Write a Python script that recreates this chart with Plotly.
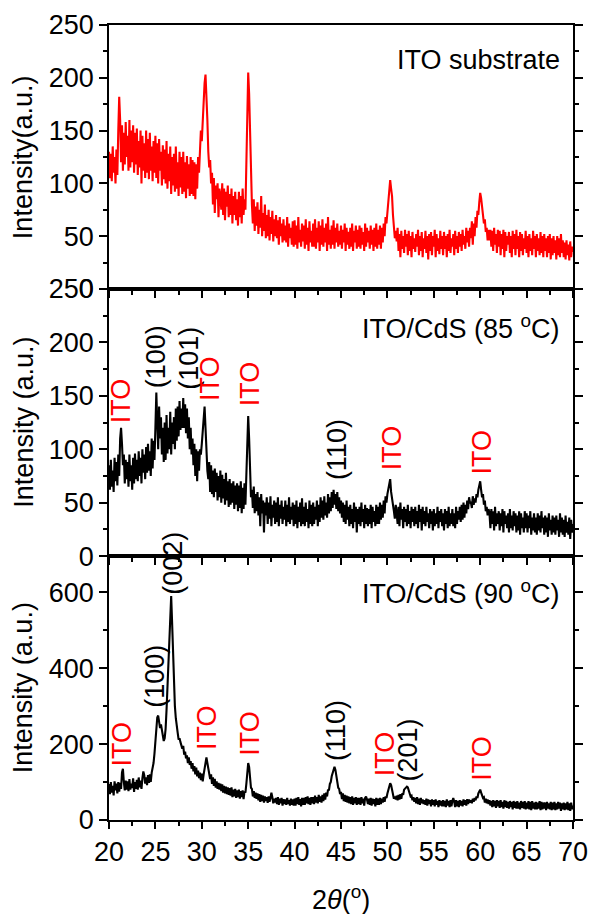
import numpy as np
import plotly.graph_objects as go
from plotly.subplots import make_subplots

# 2-theta grid: 20.0 .. 70.0 step 0.1
two_theta = np.round(20 + 0.1 * np.arange(501), 1)

ito_rows = [
    [130,105,128,102,135,110,125,100,132,108],
    [150,182,160,120,155,112,148,118,158,125],
    [145,112,160,115,150,120,155,110,148,118],
    [152,108,140,115,150,100,145,112,138,105],
    [150,110,142,104,148,112,135,102,140,110],
    [145,105,138,100,142,112,130,98,136,104],
    [132,100,140,95,128,102,135,90,125,98],
    [128,92,135,95,120,88,130,96,125,90],
    [130,92,120,86,126,95,118,88,125,90],
    [122,88,120,85,118,95,125,110,130,150],
    [140,165,175,195,203,185,160,130,115,122],
    [100,110,80,105,72,98,85,100,68,95],
    [88,75,100,70,95,65,92,78,98,68],
    [90,70,95,62,88,70,92,65,85,60],
    [92,68,88,62,95,70,85,75,110,150],
    [205,185,150,100,80,62,85,55,78,60],
    [82,52,75,58,88,50,72,55,80,48],
    [70,50,75,46,68,52,74,45,66,50],
    [70,48,65,42,68,50,62,44,66,46],
    [60,44,68,40,62,48,58,42,64,40],
    [65,42,60,38,68,44,56,40,62,45],
    [60,38,66,42,58,36,64,44,55,40],
    [62,40,66,38,58,44,64,36,60,42],
    [66,40,58,44,62,36,68,42,56,38],
    [60,42,65,38,58,44,62,40,55,42],
    [60,38,56,44,62,36,58,42,54,38],
    [58,40,62,36,55,44,60,38,56,40],
    [60,38,58,42,54,36,62,40,58,44],
    [55,38,60,42,56,36,58,40,62,38],
    [56,42,60,38,58,44,62,50,68,62],
    [72,80,92,103,95,88,70,60,48,55],
    [45,58,36,52,30,55,38,50,34,56],
    [40,52,32,55,36,50,30,54,38,48],
    [35,52,40,56,32,50,36,54,30,48],
    [38,55,34,50,28,52,36,54,32,50],
    [40,56,30,52,36,48,33,55,38,50],
    [32,54,38,50,30,52,36,56,34,48],
    [40,52,32,55,38,50,34,54,40,52],
    [36,56,42,50,38,58,44,55,40,58],
    [48,64,42,62,50,68,58,74,70,82],
    [91,86,78,72,62,66,54,58,46,56],
    [46,56,40,55,36,58,42,52,34,56],
    [40,55,32,52,38,56,30,54,36,50],
    [42,54,34,50,30,55,38,52,32,56],
    [38,50,30,54,36,52,32,48,38,55],
    [34,50,30,52,36,48,32,55,38,50],
    [30,52,36,48,32,54,34,50,30,52],
    [36,48,30,50,34,52,28,48,32,50],
    [34,46,28,50,32,48,30,52,34,46],
    [30,44,28,46,32,42,27,45,30,40],
    [35],
]

cds85_rows = [
    [85,62,90,65,80,60,92,70,88,66],
    [95,75,110,120,105,85,95,68,90,72],
    [88,65,95,70,85,62,92,68,96,72],
    [90,70,98,75,92,68,100,78,95,72],
    [102,78,105,80,98,75,110,82,108,90],
    [120,153,125,100,140,110,130,95,120,88],
    [125,90,132,96,120,100,135,95,125,105],
    [130,100,138,108,140,112,145,118,138,120],
    [148,120,142,115,138,110,130,100,120,95],
    [110,85,105,75,100,70,98,80,100,95],
    [105,118,130,140,120,95,80,72,88,60],
    [85,58,80,55,82,60,78,52,75,55],
    [80,50,76,54,72,48,78,52,70,46],
    [72,48,68,50,70,44,66,48,68,42],
    [66,45,70,40,64,44,68,48,80,110],
    [131,110,80,55,62,45,65,40,58,42],
    [60,38,55,28,58,40,52,22,50,38],
    [55,30,50,35,56,28,48,36,52,30],
    [50,32,55,28,48,35,52,30,46,34],
    [52,28,48,32,55,30,46,34,50,28],
    [48,30,52,26,46,32,50,28,54,30],
    [46,28,50,32,44,26,52,30,48,28],
    [50,30,46,34,52,28,48,32,55,36],
    [52,34,56,38,50,36,58,40,55,42],
    [60,45,62,48,58,44,60,42,55,40],
    [52,36,50,32,48,30,52,34,46,28],
    [48,30,44,26,50,32,46,22,44,30],
    [46,28,50,32,44,26,48,30,45,28],
    [44,30,48,26,46,32,42,28,48,30],
    [46,30,50,34,48,36,52,40,56,50],
    [58,62,68,72,60,55,48,42,35,48],
    [40,30,46,28,50,34,44,26,46,32],
    [44,28,48,30,42,26,46,32,44,28],
    [46,30,42,26,48,32,44,24,46,30],
    [42,28,46,32,40,26,44,30,42,24],
    [44,28,40,30,46,26,42,32,44,28],
    [40,24,44,30,42,26,46,28,40,30],
    [44,28,40,26,46,30,42,34,46,32],
    [48,34,50,36,48,40,52,44,55,50],
    [50,45,56,48,54,50,58,55,62,66],
    [70,62,55,58,48,52,42,46,38,44],
    [40,26,44,30,42,24,46,28,40,30],
    [42,24,40,28,44,22,42,30,38,26],
    [40,22,44,26,38,24,42,28,40,22],
    [38,24,42,20,40,26,36,22,42,26],
    [40,22,38,26,42,20,36,24,40,22],
    [36,20,40,24,38,22,42,26,36,20],
    [38,22,36,18,40,24,34,20,38,22],
    [36,20,38,24,34,18,40,22,36,20],
    [34,18,38,22,32,20,36,16,34,22],
    [30],
]

cds90_rows = [
    [95,68,100,72,90,65,102,78,96,70],
    [100,75,98,82,125,135,100,78,104,80],
    [102,76,108,80,96,84,110,74,100,82],
    [106,80,112,86,104,82,110,128,118,96],
    [112,92,118,98,120,100,125,135,150,175],
    [215,255,270,275,258,242,252,232,218,208],
    [215,240,290,350,430,510,570,590,520,430],
    [350,300,268,242,230,212,215,205,195,188],
    [195,172,180,162,170,150,165,145,155,135],
    [150,128,142,120,138,115,130,110,125,105],
    [122,102,120,135,152,165,150,138,120,108],
    [120,95,112,90,108,85,102,82,98,80],
    [96,76,94,72,90,70,88,68,86,66],
    [84,64,86,60,80,62,82,58,78,60],
    [80,56,76,60,78,55,75,72,95,125],
    [150,140,108,85,82,62,76,58,72,56],
    [70,52,68,48,66,50,64,46,62,50],
    [60,45,62,48,58,72,60,44,56,46],
    [58,42,60,40,56,44,58,38,55,42],
    [54,40,58,42,52,38,56,40,54,38],
    [56,38,58,42,60,40,55,36,58,40],
    [58,40,60,44,62,42,58,40,60,44],
    [60,42,64,46,60,44,66,48,62,46],
    [66,50,70,54,72,62,80,78,95,100],
    [115,125,138,140,132,112,105,85,82,68],
    [74,55,70,50,66,48,64,46,62,44],
    [60,42,62,40,58,44,60,40,58,42],
    [58,40,60,44,56,38,58,62,54,42],
    [56,40,58,38,56,42,55,36,58,40],
    [56,40,58,42,56,46,60,48,62,58],
    [70,78,90,97,92,76,68,56,62,54],
    [64,52,66,54,68,56,70,66,80,82],
    [85,88,86,78,76,62,64,52,60,48],
    [58,44,60,42,56,40,58,44,54,42],
    [52,40,56,38,54,42,52,36,54,40],
    [52,36,54,40,50,34,52,38,50,36],
    [52,36,50,34,54,38,50,34,52,36],
    [50,58,48,34,52,36,50,34,52,38],
    [50,36,54,40,52,38,55,42,54,46],
    [52,44,56,48,58,52,62,58,70,74],
    [80,72,66,58,60,46,56,44,54,42],
    [52,38,50,34,52,36,50,32,52,36],
    [50,32,52,34,48,30,52,34,50,32],
    [48,30,50,34,48,28,50,32,48,30],
    [50,30,46,28,50,32,48,30,50,28],
    [46,30,50,28,48,26,50,30,46,28],
    [48,28,46,30,50,26,48,28,46,30],
    [46,26,48,30,44,28,48,26,46,28],
    [48,26,44,28,48,30,46,24,44,28],
    [46,26,44,28,48,26,44,24,46,28],
    [38],
]

ito_substrate = [v for r in ito_rows for v in r]
cds_85 = [v for r in cds85_rows for v in r]
cds_90 = [v for r in cds90_rows for v in r]

# peak labels: (text, 2theta, intensity at label bottom, colour)
labels_85 = [
    ("ITO", 21.3, 122, "red"), ("(100)", 25.1, 155, "black"),
    ("(101)", 28.6, 154, "black"), ("ITO", 30.9, 143, "red"),
    ("ITO", 35.2, 138, "red"), ("(110)", 44.6, 69, "black"),
    ("ITO", 50.5, 78, "red"), ("ITO", 60.2, 74, "red"),
]
labels_90 = [
    ("ITO", 21.4, 137, "red"), ("(100)", 25.0, 290, "black"),
    ("(002)", 26.8, 587, "black"), ("ITO", 30.5, 179, "red"),
    ("ITO", 35.2, 163, "red"), ("(110)", 44.4, 150, "black"),
    ("ITO", 49.7, 110, "red"), ("(201)", 52.2, 97, "black"),
    ("ITO", 60.2, 97, "red"),
]

FONT = "Liberation Sans, Arial, sans-serif"
FS = 27

fig = make_subplots(rows=3, cols=1, shared_xaxes=False, vertical_spacing=0)

fig.add_trace(go.Scatter(x=two_theta, y=ito_substrate, mode="lines",
                         line=dict(color="#ff0000", width=2.1)), row=1, col=1)
fig.add_trace(go.Scatter(x=two_theta, y=cds_85, mode="lines",
                         line=dict(color="black", width=2.1)), row=2, col=1)
fig.add_trace(go.Scatter(x=two_theta, y=cds_90, mode="lines",
                         line=dict(color="black", width=2.1)), row=3, col=1)

domains = {1: [0.668, 1.0], 2: [0.332, 0.668], 3: [0.0, 0.332]}
yranges = {1: [0, 250], 2: [0, 250], 3: [0, 695]}
ydt = {1: 50, 2: 50, 3: 200}

for r in (1, 2, 3):
    fig.update_xaxes(row=r, col=1, range=[20, 70], dtick=5, tick0=20,
                     automargin=False,
                     ticks="outside", ticklen=7, tickwidth=1.5, tickcolor="black",
                     minor=dict(dtick=2.5, ticks="outside", ticklen=4, tickwidth=1.5, tickcolor="black"),
                     showline=True, linecolor="black", linewidth=1.5, mirror=True,
                     showgrid=False, zeroline=False,
                     showticklabels=(r == 3),
                     tickfont=dict(family=FONT, size=FS, color="black"))
    fig.update_yaxes(row=r, col=1, range=yranges[r], dtick=ydt[r], tick0=0,
                     domain=domains[r], automargin=False,
                     ticks="outside", ticklen=8, tickwidth=1.5, tickcolor="black",
                     minor=dict(dtick=ydt[r] / 2, ticks="outside", ticklen=4, tickwidth=1.5, tickcolor="black"),
                     showline=True, linecolor="black", linewidth=1.5, mirror="ticks",
                     showgrid=False, zeroline=False,
                     tickfont=dict(family=FONT, size=FS, color="black"))

annots = []
titles = {1: "Intensity(a.u.)", 2: "Intensity (a.u.)", 3: "Intensity (a.u.)"}
for r in (1, 2, 3):
    d = domains[r]
    annots.append(dict(text=titles[r], xref="paper", yref="paper", x=-0.185,
                       y=(d[0] + d[1]) / 2, textangle=-90, showarrow=False,
                       xanchor="center", yanchor="middle",
                       font=dict(family=FONT, size=FS, color="black")))

panel_names = [("ITO substrate", 1, 217), ("ITO/CdS (85 <sup>o</sup>C)", 2, 214),
               ("ITO/CdS (90 <sup>o</sup>C)", 3, 600)]
for txt, r, yv in panel_names:
    annots.append(dict(text=txt, xref="x%s domain" % ("" if r == 1 else r),
                       yref="y%s" % ("" if r == 1 else r), x=0.976, y=yv,
                       xanchor="right", yanchor="middle", showarrow=False,
                       font=dict(family=FONT, size=FS, color="black")))

for labs, r in ((labels_85, 2), (labels_90, 3)):
    for txt, xv, yv, col in labs:
        annots.append(dict(text=txt, x=xv, y=yv, xref="x%d" % r, yref="y%d" % r,
                           textangle=-90, showarrow=False, xanchor="center",
                           yanchor="bottom",
                           font=dict(family=FONT, size=FS,
                                     color="#ff0000" if col == "red" else "black")))

annots.append(dict(text="2<i>θ</i>(<sup>o</sup>)", xref="paper", yref="paper",
                   x=0.5, y=-0.098, xanchor="center", yanchor="middle",
                   showarrow=False, font=dict(family=FONT, size=FS, color="black")))

fig.update_layout(width=590, height=914, margin=dict(l=109, r=17, t=25, b=94),
                  plot_bgcolor="white", paper_bgcolor="white", showlegend=False,
                  annotations=annots)

fig.write_html("out.html", config={"displayModeBar": False},
               post_script="document.body.style.margin='0px';document.body.style.overflow='hidden';")
